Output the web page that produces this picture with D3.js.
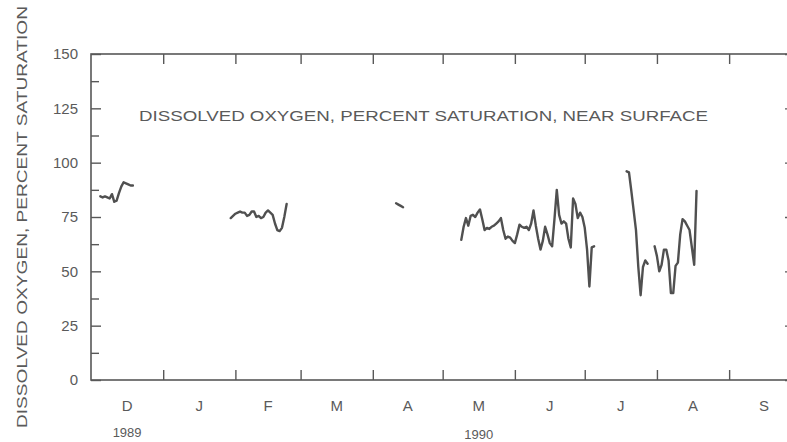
<!DOCTYPE html>
<html>
<head>
<meta charset="utf-8">
<script src="https://cdn.jsdelivr.net/npm/d3@7"></script>
<style>
  html, body { margin: 0; padding: 0; background: #fff; }
  svg { display: block; }
  text { font-family: "Liberation Sans", Arial, Helvetica, sans-serif; fill: #5a5a5a; }
</style>
</head>
<body>
<svg id="chart" width="787" height="442"></svg>
<script>
// ---- DATA (daily readings, each run of days starts on the given date) ----
const seg1Start = "1989-12-05";
const seg1Values = [84.5, 84, 84.5, 84, 83.5, 85.5, 82, 82.5, 86, 89, 91, 90.5, 90, 89.5, 89.5];

const seg2Start = "1990-01-30";
const seg2Values = [74.5, 75.5, 76.5, 77, 77.5, 77, 77, 75.5, 76, 77.5, 77.5, 75, 75.5, 74.5, 75,
                    77, 78, 77, 76, 72, 69, 68.5, 70, 75, 81];

const seg3Start = "1990-04-11";
const seg3Values = [81.3, 80.7, 80.1, 79.5];

const seg4Start = "1990-05-09";
const seg4Values = [64.5, 70.5, 74.5, 71, 75.5, 76, 75, 77, 78.5, 74, 69, 70, 69.5, 70.5, 71,
                    72, 73, 74.5, 69, 65, 66, 65.5, 64, 63, 67, 71.5, 70.5, 70, 70.5, 69,
                    72, 78, 71, 65, 60, 64, 70.5, 67, 63, 61.5, 74, 87.5, 76, 72, 73,
                    72, 65, 61, 83.5, 81, 74.5, 77, 75, 70, 60, 43, 61, 61.5];

const seg5Start = "1990-07-19";
const seg5Values = [96, 95.5, 87, 78, 69, 52, 39, 52, 55, 53.5];

const seg6Start = "1990-07-31";
const seg6Values = [61.5, 57, 50, 53, 60, 60, 55, 40, 40, 52.5, 54, 67, 74, 73, 71, 69, 61, 53, 87];

const monthLabels = ["D", "J", "F", "M", "A", "M", "J", "J", "A", "S"];
const yearLabels = [{ label: "1989", month: "1989-12" }, { label: "1990", month: "1990-05" }];
const yTickValues = [0, 25, 50, 75, 100, 125, 150];
const yMinorTickValues = [12.5, 37.5, 62.5, 87.5, 112.5, 137.5];
const chartTitle = "DISSOLVED OXYGEN, PERCENT SATURATION, NEAR SURFACE";
const yAxisTitle = "DISSOLVED OXYGEN, PERCENT SATURATION";

// ---- LAYOUT ----
const svg = d3.select("#chart");
const pLeft = 91, pRight = 799, pTop = 54, pBottom = 380;
const ink = "#585858";
const parse = d3.timeParse("%Y-%m-%d");
const parseM = d3.timeParse("%Y-%m");

const x = d3.scaleTime()
  .domain([new Date(1989, 11, 1), new Date(1990, 9, 1)])
  .range([pLeft, pRight]);
const y = d3.scaleLinear().domain([0, 150]).range([pBottom, pTop]);

function series(start, values) {
  const s = parse(start);
  return values.map((v, i) => ({ date: d3.timeDay.offset(s, i), value: v }));
}
const segments = [
  series(seg1Start, seg1Values),
  series(seg2Start, seg2Values),
  series(seg3Start, seg3Values),
  series(seg4Start, seg4Values),
  series(seg5Start, seg5Values),
  series(seg6Start, seg6Values)
];

// frame
svg.append("rect")
  .attr("x", pLeft).attr("y", pTop)
  .attr("width", pRight - pLeft).attr("height", pBottom - pTop)
  .attr("fill", "none").attr("stroke", ink).attr("stroke-width", 1.6);

// month ticks (inward) top and bottom
const monthStarts = d3.timeMonth.range(new Date(1990, 0, 1), new Date(1990, 9, 1));
const tickLen = 10;
const gTop = svg.append("g").attr("transform", `translate(0,${pTop})`)
  .call(d3.axisBottom(x).tickValues(monthStarts).tickSize(tickLen).tickFormat(""));
const gBot = svg.append("g").attr("transform", `translate(0,${pBottom})`)
  .call(d3.axisTop(x).tickValues(monthStarts).tickSize(tickLen).tickFormat(""));
[gTop, gBot].forEach(g => {
  g.select(".domain").remove();
  g.selectAll(".tick line").attr("stroke", ink).attr("stroke-width", 1.4);
});

// y ticks left (major and minor)
const gLeft = svg.append("g").attr("transform", `translate(${pLeft},0)`)
  .call(d3.axisRight(y).tickValues(yTickValues).tickSize(10).tickFormat(""));
gLeft.select(".domain").remove();
gLeft.selectAll(".tick line").attr("stroke", ink).attr("stroke-width", 1.4);
const gLeftMinor = svg.append("g").attr("transform", `translate(${pLeft},0)`)
  .call(d3.axisRight(y).tickValues(yMinorTickValues).tickSize(8).tickFormat(""));
gLeftMinor.select(".domain").remove();
gLeftMinor.selectAll(".tick line").attr("stroke", ink).attr("stroke-width", 1.4);

const gRight = svg.append("g").attr("transform", `translate(${pRight},0)`)
  .call(d3.axisLeft(y).tickValues(yTickValues).tickSize(14).tickFormat(""));
gRight.select(".domain").remove();
gRight.selectAll(".tick line").attr("stroke", ink).attr("stroke-width", 1.4);

// y tick labels
svg.append("g").selectAll("text").data(yTickValues).join("text")
  .attr("x", pLeft - 13).attr("y", d => y(d)).attr("dy", "0.36em")
  .attr("text-anchor", "end").attr("font-size", 15)
  .text(d => d);

// month labels centred in each month
const months = d3.timeMonth.range(new Date(1989, 11, 1), new Date(1990, 9, 1));
svg.append("g").selectAll("text").data(months).join("text")
  .attr("x", d => x(new Date((+d + +d3.timeMonth.offset(d, 1)) / 2)))
  .attr("y", 411).attr("text-anchor", "middle").attr("font-size", 15)
  .text((d, i) => monthLabels[i]);

// year labels
svg.append("g").selectAll("text").data(yearLabels).join("text")
  .attr("x", d => { const m = parseM(d.month); return x(new Date((+m + +d3.timeMonth.offset(m, 1)) / 2)); })
  .attr("y", (d, i) => i === 0 ? 437 : 439).attr("text-anchor", "middle").attr("font-size", 13)
  .text(d => d.label);

// chart title inside plot
svg.append("text")
  .attr("x", 139).attr("y", 121)
  .attr("font-size", 15)
  .attr("textLength", 569).attr("lengthAdjust", "spacingAndGlyphs")
  .text(chartTitle);

// y axis title
svg.append("text")
  .attr("transform", "translate(27,428) rotate(-90)")
  .attr("font-size", 15)
  .attr("textLength", 422).attr("lengthAdjust", "spacingAndGlyphs")
  .text(yAxisTitle);

// data lines
const line = d3.line().x(d => x(d.date)).y(d => y(d.value));
svg.append("g").selectAll("path").data(segments).join("path")
  .attr("d", line)
  .attr("fill", "none").attr("stroke", "#505050").attr("stroke-width", 2.4)
  .attr("stroke-linejoin", "round").attr("stroke-linecap", "round");
</script>
</body>
</html>
